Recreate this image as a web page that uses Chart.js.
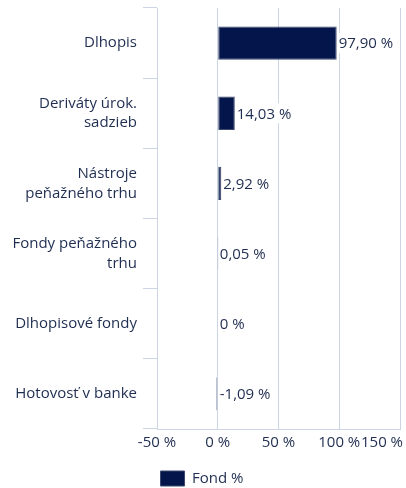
<!DOCTYPE html>
<html>
<head>
<meta charset="utf-8">
<script src="https://cdn.jsdelivr.net/npm/chart.js@4.4.1/dist/chart.umd.min.js"></script>
<style>
  html, body { margin: 0; padding: 0; background: #fff; }
  #wrap { width: 406px; height: 488px; }
</style>
</head>
<body>
<div id="wrap"><canvas id="fondChart" width="406" height="488"></canvas></div>
<script>
// data
const categories = [
  'Dlhopis',
  ['Deriváty úrok.', 'sadzieb'],
  ['Nástroje', 'peňažného trhu'],
  ['Fondy peňažného', 'trhu'],
  'Dlhopisové fondy',
  'Hotovosť v banke'
];
const fondValues = [97.90, 14.03, 2.92, 0.05, 0, -1.09];
const xTicks = [-50, 0, 50, 100, 150];
const seriesName = 'Fond %';

const navy = '#03154a';
const textColor = '#1f2d50';
const gridColor = '#cbd5e4';
const fontFam = 'Open Sans';
const fs = 15;

function fmtPct(v) {
  if (v === 0) return '0 %';
  return v.toFixed(2).replace('.', ',') + ' %';
}

// labels at the end of each bar, on a white box
const valueLabels = {
  id: 'valueLabels',
  beforeDraw(chart) {
    // last x label is kept inside the canvas (right aligned)
    const items = chart.scales.x.getLabelItems();
    const last = items[items.length - 1];
    if (last) {
      last.options.textAlign = 'right';
      last.options.translation[0] = chart.width - 3;
    }
  },
  afterDatasetsDraw(chart) {
    const ctx = chart.ctx;
    const xs = chart.scales.x;
    const meta = chart.getDatasetMeta(0);
    ctx.save();
    ctx.font = fs + 'px "' + fontFam + '"';
    ctx.textBaseline = 'middle';
    ctx.textAlign = 'left';
    meta.data.forEach((bar, i) => {
      const v = fondValues[i];
      const x = xs.getPixelForValue(Math.max(v, 0)) + 1;
      const y = bar.y;
      const txt = fmtPct(v);
      const w = ctx.measureText(txt).width;
      ctx.fillStyle = '#fff';
      ctx.fillRect(x, y - 10, w + 2, 20);
      ctx.fillStyle = textColor;
      ctx.fillText(txt, x + 1, y + 1);
    });
    ctx.restore();
  }
};

const ctx = document.getElementById('fondChart').getContext('2d');
new Chart(ctx, {
  type: 'bar',
  data: {
    labels: categories,
    datasets: [{
      label: seriesName,
      data: fondValues,
      backgroundColor: navy,
      borderColor: '#3c4a6e',
      borderWidth: 1,
      borderSkipped: false,
      categoryPercentage: 1,
      barPercentage: 0.475
    }]
  },
  options: {
    indexAxis: 'y',
    responsive: false,
    animation: false,
    layout: { padding: { top: 8, right: 6, left: 4, bottom: -8 } },
    plugins: {
      tooltip: { enabled: false },
      legend: {
        position: 'bottom',
        labels: {
          color: textColor,
          font: { family: fontFam, size: fs },
          boxWidth: 24,
          boxHeight: 15,
          padding: 14
        }
      }
    },
    scales: {
      x: {
        min: -50,
        max: 150,
        afterBuildTicks(scale) {
          scale.ticks = xTicks.map(v => ({ value: v }));
        },
        afterFit(scale) {
          scale.paddingLeft = 0;
          scale.paddingRight = 0;
        },
        grid: { color: gridColor, drawTicks: false, lineWidth: 1 },
        border: { display: true, color: gridColor },
        ticks: {
          color: textColor,
          font: { family: fontFam, size: fs },
          padding: 5,
          maxRotation: 0,
          autoSkip: false,
          callback: v => v + ' %'
        }
      },
      y: {
        afterFit(scale) {
          scale.width = 153;
          scale.paddingTop = 0;
          scale.paddingBottom = 0;
        },
        grid: {
          offset: true,
          drawOnChartArea: false,
          tickLength: 14,
          color: gridColor
        },
        border: { display: false },
        ticks: {
          color: textColor,
          font: { family: fontFam, size: fs, lineHeight: 1.33 },
          padding: 6
        }
      }
    }
  },
  plugins: [valueLabels]
});
</script>
</body>
</html>
